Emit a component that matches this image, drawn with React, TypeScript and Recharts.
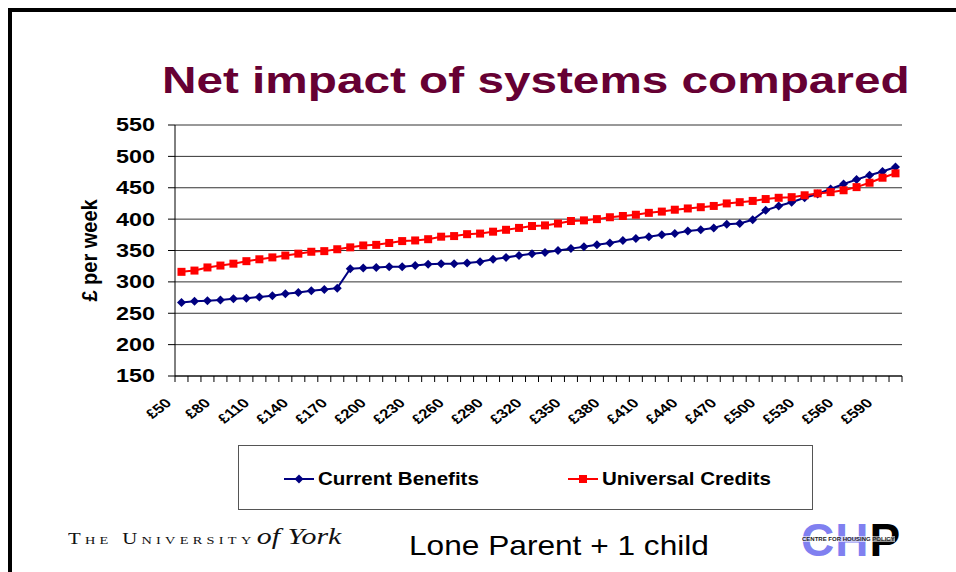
import React from 'react'
import { LineChart, Line, XAxis, YAxis, CartesianGrid, Label } from 'recharts'

// weekly gross earnings bands
const incomes = [
  '£50', '£60', '£70', '£80', '£90', '£100', '£110', '£120', '£130', '£140',
  '£150', '£160', '£170', '£180', '£190', '£200', '£210', '£220', '£230', '£240',
  '£250', '£260', '£270', '£280', '£290', '£300', '£310', '£320', '£330', '£340',
  '£350', '£360', '£370', '£380', '£390', '£400', '£410', '£420', '£430', '£440',
  '£450', '£460', '£470', '£480', '£490', '£500', '£510', '£520', '£530', '£540',
  '£550', '£560', '£570', '£580', '£590', '£600',
]

const currentBenefits = [
  267, 269, 270, 271, 273, 274, 276, 278, 281, 283, 286, 288, 290,
  321, 322, 323, 324, 324, 326, 328, 329, 329, 330, 332, 336, 339, 342, 345,
  347, 350, 353, 356, 359, 362, 366, 369, 372, 375, 377, 381, 383, 386,
  392, 393, 399, 414, 421, 427, 434, 440, 448, 456, 463, 470, 476, 483,
]

const universalCredits = [
  316, 318, 323, 326, 329, 333, 336, 339, 342, 345, 348, 349, 352, 355,
  358, 359, 362, 365, 366, 368, 372, 373, 376, 377, 380, 383, 386, 389,
  390, 393, 397, 398, 400, 403, 405, 407, 410, 412, 415, 417, 419, 421,
  425, 427, 429, 432, 434, 435, 438, 441, 443, 446, 451, 458, 466, 473,
]

const yTicks = [150, 200, 250, 300, 350, 400, 450, 500, 550]

const series = [
  { key: 'current', name: 'Current Benefits', color: '#000080', shape: 'diamond' },
  { key: 'universal', name: 'Universal Credits', color: '#ff0000', shape: 'square' },
]

const data = incomes.map((income, i) => ({
  income,
  current: currentBenefits[i],
  universal: universalCredits[i],
}))

// the slide is stretched sideways, so the text is too
const STRETCH = 1.3
const FONT = '"Liberation Sans", Arial, sans-serif'

const Diamond = (props: any) => {
  const { cx, cy, fill } = props
  if (cx == null || cy == null) return null
  return <polygon points={`${cx},${cy - 4.5} ${cx + 4.5},${cy} ${cx},${cy + 4.5} ${cx - 4.5},${cy}`} fill={fill} />
}

const Square = (props: any) => {
  const { cx, cy, fill } = props
  if (cx == null || cy == null) return null
  return <rect x={cx - 4} y={cy - 4} width={8} height={8} fill={fill} />
}

const XTick = (props: any) => {
  const { x, y, payload, index } = props
  const off = payload?.offset ?? 0
  return (
    <g>
      <line x1={x - off} y1={y} x2={x - off} y2={y + 6} stroke="#000" />
      {index === incomes.length - 1 && <line x1={x + off} y1={y} x2={x + off} y2={y + 6} stroke="#000" />}
      {index % 3 === 0 && (
        <text
          transform={`translate(${x - 9},${y + 28}) scale(${STRETCH},1) rotate(-45)`}
          textAnchor="end"
          fontSize={13}
          fontWeight={700}
          fontFamily={FONT}
          fill="#000"
        >
          {payload.value}
        </text>
      )}
    </g>
  )
}

const YTick = (props: any) => {
  const { x, y, payload } = props
  return (
    <text
      transform={`translate(${x},${y}) scale(${STRETCH},1)`}
      textAnchor="end"
      dy="0.36em"
      fontSize={18}
      fontWeight={700}
      fontFamily={FONT}
      fill="#000"
    >
      {payload.value}
    </text>
  )
}

const YLabel = (props: any) => {
  const { x, y, height } = props.viewBox
  return (
    <text
      transform={`translate(${x + 22},${y + height / 2}) scale(1.1,1) rotate(-90)`}
      textAnchor="middle"
      fontSize={20}
      fontWeight={700}
      fontFamily={FONT}
      fill="#000"
    >
      £ per week
    </text>
  )
}

const LegendMarker = ({ color, shape }: { color: string; shape: string }) => (
  <svg width={30} height={12} style={{ display: 'block' }}>
    <line x1={0} y1={6} x2={30} y2={6} stroke={color} strokeWidth={2} />
    {shape === 'diamond' ? <Diamond cx={15} cy={6} fill={color} /> : <Square cx={15} cy={6} fill={color} />}
  </svg>
)

export default function App() {
  return (
    <div
      style={{
        position: 'absolute',
        left: 0,
        top: 0,
        width: 956,
        height: 572,
        overflow: 'hidden',
        background: '#fff',
        fontFamily: FONT,
      }}
    >
      {/* slide frame */}
      <div
        style={{
          position: 'absolute',
          left: 8,
          top: 8,
          width: 1000,
          height: 700,
          borderLeft: '4px solid #000',
          borderTop: '4px solid #000',
        }}
      />

      <div
        style={{
          position: 'absolute',
          left: 162,
          top: 63,
          fontSize: 36,
          lineHeight: '36px',
          fontWeight: 700,
          color: '#660033',
          whiteSpace: 'nowrap',
          transform: 'scaleX(1.325)',
          transformOrigin: 'left top',
        }}
      >
        Net impact of systems compared
      </div>

      <div style={{ position: 'absolute', left: 0, top: 0 }}>
        <LineChart width={956} height={572} data={data} margin={{ top: 125, right: 54, bottom: 136, left: 75 }}>
          <CartesianGrid vertical={false} stroke="#333" />
          <XAxis
            dataKey="income"
            scale="band"
            interval={0}
            height={60}
            tickSize={0}
            tickMargin={0}
            tickLine={false}
            axisLine={{ stroke: '#000' }}
            tick={<XTick />}
          />
          <YAxis
            domain={[150, 550]}
            ticks={yTicks}
            width={100}
            tickSize={7}
            tickMargin={13}
            axisLine={{ stroke: '#000' }}
            tickLine={{ stroke: '#000' }}
            tick={<YTick />}
            allowDataOverflow
          >
            <Label content={<YLabel />} />
          </YAxis>
          <YAxis yAxisId="r" orientation="right" width={0} tick={false} tickLine={false} axisLine={{ stroke: '#333' }} />
          {series.map((s) => (
            <Line
              key={s.key}
              type="linear"
              dataKey={s.key}
              name={s.name}
              stroke={s.color}
              strokeWidth={2}
              dot={s.shape === 'diamond' ? <Diamond fill={s.color} /> : <Square fill={s.color} />}
              activeDot={false}
              isAnimationActive={false}
            />
          ))}
        </LineChart>
      </div>

      {/* legend */}
      <div
        style={{
          position: 'absolute',
          left: 238,
          top: 445,
          width: 575,
          height: 65,
          border: '1px solid #555',
          boxSizing: 'border-box',
        }}
      >
        {series.map((s, i) => (
          <div
            key={s.key}
            style={{
              position: 'absolute',
              left: i === 0 ? 45 : 329,
              top: 24,
              display: 'flex',
              alignItems: 'center',
            }}
          >
            <LegendMarker color={s.color} shape={s.shape} />
            <span
              style={{
                display: 'inline-block',
                marginLeft: 4,
                fontSize: 18.5,
                lineHeight: '18px',
                fontWeight: 700,
                color: '#000',
                whiteSpace: 'nowrap',
                transform: 'scaleX(1.11)',
                transformOrigin: 'left center',
              }}
            >
              {s.name}
            </span>
          </div>
        ))}
      </div>

      {/* footer */}
      <div
        style={{
          position: 'absolute',
          left: 68,
          top: 524,
          whiteSpace: 'nowrap',
          fontFamily: '"Liberation Serif", "Times New Roman", serif',
          color: '#111',
          transform: `scaleX(${STRETCH})`,
          transformOrigin: 'left top',
        }}
      >
        <span style={{ fontSize: 16, fontVariant: 'small-caps', letterSpacing: 3.3 }}>The University</span>
        <span style={{ fontSize: 23, fontStyle: 'italic', marginLeft: 1 }}>of York</span>
      </div>

      <div
        style={{
          position: 'absolute',
          left: 409,
          top: 532,
          fontSize: 28,
          lineHeight: '28px',
          color: '#000',
          whiteSpace: 'nowrap',
          transform: 'scaleX(1.13)',
          transformOrigin: 'left top',
        }}
      >
        Lone Parent + 1 child
      </div>

      <div style={{ position: 'absolute', left: 801, top: 517, width: 110, height: 50 }}>
        <div
          style={{
            position: 'absolute',
            left: 0,
            top: 0,
            fontSize: 46,
            lineHeight: '46px',
            fontWeight: 700,
            whiteSpace: 'nowrap',
            transform: 'scaleX(1.0)',
            transformOrigin: 'left top',
            letterSpacing: 1,
          }}
        >
          <span style={{ color: '#8080f0' }}>CH</span>
          <span style={{ color: '#000' }}>P</span>
        </div>
        <div
          style={{
            position: 'absolute',
            left: 1,
            top: 19,
            fontSize: 6,
            fontWeight: 700,
            color: '#222',
            whiteSpace: 'nowrap',
            background: 'rgba(255,255,255,0.6)',
          }}
        >
          CENTRE FOR HOUSING POLICY
        </div>
      </div>
    </div>
  )
}
